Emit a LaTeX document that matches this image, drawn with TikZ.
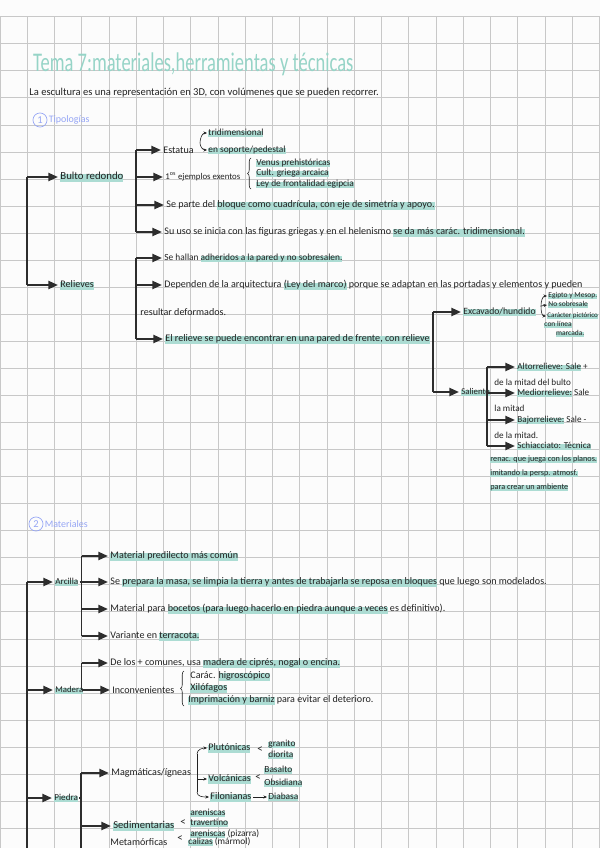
\documentclass[tikz,border=0pt]{standalone}
\usepackage{fontspec}
\setmainfont{Carlito}
\usetikzlibrary{arrows.meta,positioning,decorations.pathreplacing}

\definecolor{tinta}{RGB}{34,34,34}
\definecolor{trazo}{RGB}{45,45,45}
\definecolor{verdeagua}{RGB}{150,212,199}
\definecolor{resalte}{RGB}{172,220,211}
\definecolor{lila}{RGB}{150,166,245}
\definecolor{rejilla}{RGB}{200,200,200}
\definecolor{papel}{RGB}{252,252,252}

% subrayado de fosforito
\newsavebox\cajaresalte
\newcommand\marca[1]{\sbox\cajaresalte{#1}\rlap{\color{resalte}\rule[-0.45ex]{\wd\cajaresalte}{1.5ex}}\usebox\cajaresalte}

\begin{document}
\begin{tikzpicture}[x=0.03cm,y=-0.03cm,
  texto/.style={anchor=west,inner sep=1pt,text=tinta,font=\fontsize{8.6}{10}\selectfont},
  medio/.style={texto,font=\fontsize{7.8}{9}\selectfont},
  chico/.style={texto,font=\fontsize{8}{9}\selectfont},
  mini/.style={texto,font=\fontsize{6.4}{7.5}\selectfont},
  tronco/.style={draw=trazo,line width=1.1pt},
  flecha/.style={tronco,-{Triangle[length=8pt,width=7pt]},shorten >=1pt},
  fino/.style={draw=tinta,line width=0.5pt},
  finoflecha/.style={fino,-{Stealth[length=3pt,width=2.6pt]}},
  llave/.style={fino,decorate,decoration={brace,amplitude=3pt}},
  menor/.style={texto,font=\fontsize{9.5}{9}\selectfont},
  apartado/.style={anchor=west,inner sep=0.5pt,text=lila,font=\fontsize{8.5}{10}\selectfont},
  numero/.style={circle,draw=lila,line width=0.6pt,inner sep=0pt,minimum size=12pt,text=lila,font=\fontsize{9}{9}\selectfont}]

  \useasboundingbox (0,0) rectangle (600,848);
  \clip (0,0) rectangle (600,848);
  \fill[papel] (0,0) rectangle (600,848);

  % cuadricula
  \foreach \k in {0,...,22}
    \draw[rejilla,line width=0.6pt] (27.25*\k,16.7) -- (27.25*\k,848);
  \foreach \k in {0,...,30}
    \draw[rejilla,line width=0.6pt] (0,16.7+27.05*\k) -- (600,16.7+27.05*\k);

  % cabecera
  \node[anchor=west,inner sep=0pt,text=verdeagua,font=\fontsize{20}{20}\selectfont] (tema) at (33,64)
    {\scalebox{0.79}[1.15]{Tema 7:materiales,herramientas y técnicas}};
  \node[texto,font=\fontsize{9}{10}\selectfont] (intro) at (28,93)
    {La escultura es una representación en 3D, con volúmenes que se pueden recorrer.};

  % 1 tipologias
  \node[numero] (n1) at (40,120) {1};
  \node[apartado,right=0.5pt of n1] (tipologias) {Tipologías};

  \coordinate (t1) at (27,177);
  \coordinate (t2) at (27,285);
  \node[texto,font=\fontsize{9.2}{10}\selectfont] (bulto) at (59,177) {\marca{Bulto redondo}};
  \node[texto] (relieves) at (59,285) {\marca{Relieves}};
  \draw[tronco] (t1) -- (t2);
  \draw[flecha] (t1) -- (bulto);
  \draw[flecha] (t2) -- (relieves);

  % bulto redondo
  \coordinate (b1) at (136,150);
  \coordinate (b2) at (136,177);
  \coordinate (b3) at (136,205);
  \coordinate (b4) at (136,232);
  \node[texto] (estatua) at (162,150) {Estatua};
  \node[texto,font=\fontsize{7.5}{9}\selectfont] (ejemplos) at (164,177) {1\textsuperscript{os} ejemplos exentos};
  \node[texto] (bloque) at (165,205) {Se parte del \marca{bloque como cuadrícula, con eje de simetría y apoyo.}};
  \node[texto] (griegas) at (163,232) {Su uso se inicia con las figuras griegas y en el helenismo \marca{se da más carác. tridimensional.}};
  \draw[tronco] (b1) -- (b4);
  \foreach \c/\n in {b1/estatua,b2/ejemplos,b3/bloque,b4/griegas}
    \draw[flecha] (\c) -- (\n);

  \node[chico] (tri) at (207,133) {\marca{tridimensional}};
  \node[chico] (soporte) at (207,150) {\marca{en soporte/pedestal}};
  \coordinate (fe) at (200,143);
  \draw[finoflecha] (fe) to[out=90,in=180] (tri.west);
  \draw[finoflecha] (fe) to[out=-90,in=180] (soporte.west);

  \node[chico] (venus) at (255,163) {\marca{Venus prehistóricas}};
  \node[chico] (cult) at (255,173) {\marca{Cult. griega arcaica}};
  \node[chico] (ley) at (255,184) {\marca{Ley de frontalidad egipcia}};
  \draw[llave] (251,189) -- (251,158);

  % relieves
  \coordinate (r1) at (136,258);
  \coordinate (r2) at (136,285);
  \coordinate (r3) at (136,339);
  \node[texto,font=\fontsize{8}{10}\selectfont] (hallan) at (163,258) {Se hallan \marca{adheridos a la pared y no sobresalen.}};
  \node[texto] (dependen) at (163,285) {Dependen de la arquitectura \marca{(Ley del marco)} porque se adaptan en las portadas y elementos y pueden};
  \node[texto] (deformados) at (139,312) {resultar deformados.};
  \node[texto] (encontrar) at (164,339) {\marca{El relieve se puede encontrar en una pared de frente, con relieve}};
  \draw[tronco] (r1) -- (r3);
  \foreach \c/\n in {r1/hallan,r2/dependen,r3/encontrar}
    \draw[flecha] (\c) -- (\n);

  \coordinate (c1) at (433,312);
  \coordinate (c2) at (433,392);
  \node[texto,font=\fontsize{8.2}{10}\selectfont] (excavado) at (462,312) {\marca{Excavado/hundido}};
  \node[texto,font=\fontsize{7.5}{9}\selectfont] (saliente) at (460,392) {\marca{Saliente}};
  \draw[tronco] (c1) -- (c2);
  \draw[flecha] (c1) -- (excavado);
  \draw[flecha] (c2) -- (saliente);

  \node[mini] (egipto) at (547,296) {\marca{Egipto y Mesop.}};
  \node[mini] (nosobre) at (547,305) {\marca{No sobresale}};
  \node[mini,font=\fontsize{6}{7}\selectfont] (caracter) at (546,316) {\marca{Carácter pictórico}};
  \node[mini,anchor=north west,align=left] (linea) at (543,320) {\marca{con línea}\\\hspace{10pt}\marca{marcada.}};
  \coordinate (fx) at (541,306);
  \draw[finoflecha] (fx) to[out=90,in=180] (egipto.west);
  \draw[finoflecha] (fx) -- (nosobre.west);
  \draw[finoflecha] (fx) to[out=-90,in=180] (caracter.west);

  \coordinate (s1) at (487,367);
  \coordinate (s2) at (487,393);
  \coordinate (s3) at (487,420);
  \coordinate (s4) at (487,446);
  \node[medio] (alto) at (516,367) {\marca{Altorrelieve: Sale} +};
  \node[medio] (alto2) at (493,382) {de la mitad del bulto};
  \node[medio] (mediorr) at (516,393) {\marca{Mediorrelieve:} Sale};
  \node[medio] (medio2) at (493,408) {la mitad};
  \node[medio] (bajo) at (516,420) {\marca{Bajorrelieve:} Sale -};
  \node[medio] (bajo2) at (493,435) {de la mitad.};
  \node[medio] (schia) at (516,446) {\marca{Schiacciato: Técnica}};
  \node[texto,anchor=north west,align=left,font=\fontsize{7}{12}\selectfont] (schia2) at (489,454)
    {\marca{renac. que juega con los planos.}\\\marca{imitando la persp. atmosf.}\\\marca{para crear un ambiente}};
  \draw[tronco] (s1) -- (s4);
  \foreach \c/\n in {s1/alto,s2/mediorr,s3/bajo,s4/schia}
    \draw[flecha] (\c) -- (\n);

  % 2 materiales
  \node[numero] (n2) at (36,524) {2};
  \node[apartado,right=0.5pt of n2] (materiales) {Materiales};

  \coordinate (m1) at (27,582);
  \coordinate (m2) at (27,690);
  \coordinate (m3) at (27,798);
  \coordinate (m4) at (27,860);
  \node[texto,font=\fontsize{7.8}{9}\selectfont] (arcilla) at (54,582) {\marca{Arcilla}};
  \node[texto,font=\fontsize{7.5}{9}\selectfont] (madera) at (54,690) {\marca{Madera}};
  \node[texto,font=\fontsize{7.8}{9}\selectfont] (piedra) at (53,798) {\marca{Piedra}};
  \draw[tronco] (m1) -- (m4);
  \foreach \c/\n in {m1/arcilla,m2/madera,m3/piedra}
    \draw[flecha] (\c) -- (\n);

  % arcilla
  \coordinate (a1) at (81.5,556);
  \coordinate (a2) at (81.5,582);
  \coordinate (a3) at (81.5,609);
  \coordinate (a4) at (81.5,636);
  \node[texto] (predilecto) at (109,556) {\marca{Material predilecto más común}};
  \node[texto] (prepara) at (109,582) {Se \marca{prepara la masa, se limpia la tierra y antes de trabajarla se reposa en bloques} que luego son modelados.};
  \node[texto] (bocetos) at (109,609) {Material para \marca{bocetos (para luego hacerlo en piedra aunque a veces} es definitivo).};
  \node[texto] (terracota) at (109,636) {Variante en \marca{terracota.}};
  \draw[tronco] (arcilla.east) -- (a2);
  \draw[tronco] (a1) -- (a4);
  \foreach \c/\n in {a1/predilecto,a2/prepara,a3/bocetos,a4/terracota}
    \draw[flecha] (\c) -- (\n);

  % madera
  \coordinate (d1) at (81.5,663);
  \coordinate (d2) at (81.5,690);
  \node[texto] (comunes) at (109,663) {De los + comunes, usa \marca{madera de ciprés, nogal o encina.}};
  \node[texto] (inconv) at (111,690) {Inconvenientes};
  \draw[tronco] (madera.east) -- (d2);
  \draw[tronco] (d1) -- (d2);
  \draw[flecha] (d1) -- (comunes);
  \draw[flecha] (d2) -- (inconv);

  \node[texto] (higro) at (189,676) {Carác. \marca{higroscópico}};
  \node[texto] (xilo) at (189,688) {\marca{Xilófagos}};
  \node[texto] (imprima) at (187,700) {\marca{Imprimación y barniz} para evitar el deterioro.};
  \draw[llave] (184,706) -- (184,671);

  % piedra
  \coordinate (p1) at (81,773);
  \coordinate (p2) at (81,826);
  \coordinate (p3) at (81,860);
  \node[texto] (magma) at (110,773) {Magmáticas/ígneas};
  \node[texto,font=\fontsize{9}{10}\selectfont] (sedi) at (112,826) {\marca{Sedimentarias}};
  \node[texto] (meta) at (109,842) {Metamórficas};
  \draw[tronco] (piedra.east) -- (p1 |- piedra);
  \draw[tronco] (p1) -- (p3);
  \draw[flecha] (p1) -- (magma);
  \draw[flecha] (p2) -- (sedi);

  \node[texto] (pluto) at (207,748) {\marca{Plutónicas}};
  \node[texto] (volca) at (207,779) {\marca{Volcánicas}};
  \node[texto] (filo) at (209,797) {\marca{Filonianas}};
  \coordinate (fm1) at (197,754);
  \coordinate (fm2) at (197,792);
  \draw[fino] (fm1) -- (fm2);
  \draw[finoflecha] (fm1) to[out=90,in=180] (pluto.west);
  \draw[finoflecha] (fm1 |- volca) -- (volca.west);
  \draw[finoflecha] (fm2) to[out=-90,in=180] (filo.west);

  \node[menor] (menor1) at (256,750) {<};
  \node[chico] (granito) at (267,744) {\marca{granito}};
  \node[chico] (diorita) at (267,755) {\marca{diorita}};
  \node[menor] (menor2) at (254,778) {<};
  \node[chico] (basalto) at (263,770) {\marca{Basalto}};
  \node[chico] (obsidiana) at (263,783) {\marca{Obsidiana}};
  \node[chico] (diabasa) at (267,797) {\marca{Diabasa}};
  \draw[finoflecha] (filo) -- (diabasa);

  \node[menor] (menor3) at (179,823) {<};
  \node[chico] (arenisca) at (189,813) {\marca{areniscas}};
  \node[chico] (traver) at (189,823) {\marca{travertino}};
  \node[menor] (menor4) at (176,839) {<};
  \node[chico] (pizarra) at (189,834) {\marca{areniscas} (pizarra)};
  \node[chico] (marmol) at (187,842) {\marca{calizas} (mármol)};
\end{tikzpicture}
\end{document}
